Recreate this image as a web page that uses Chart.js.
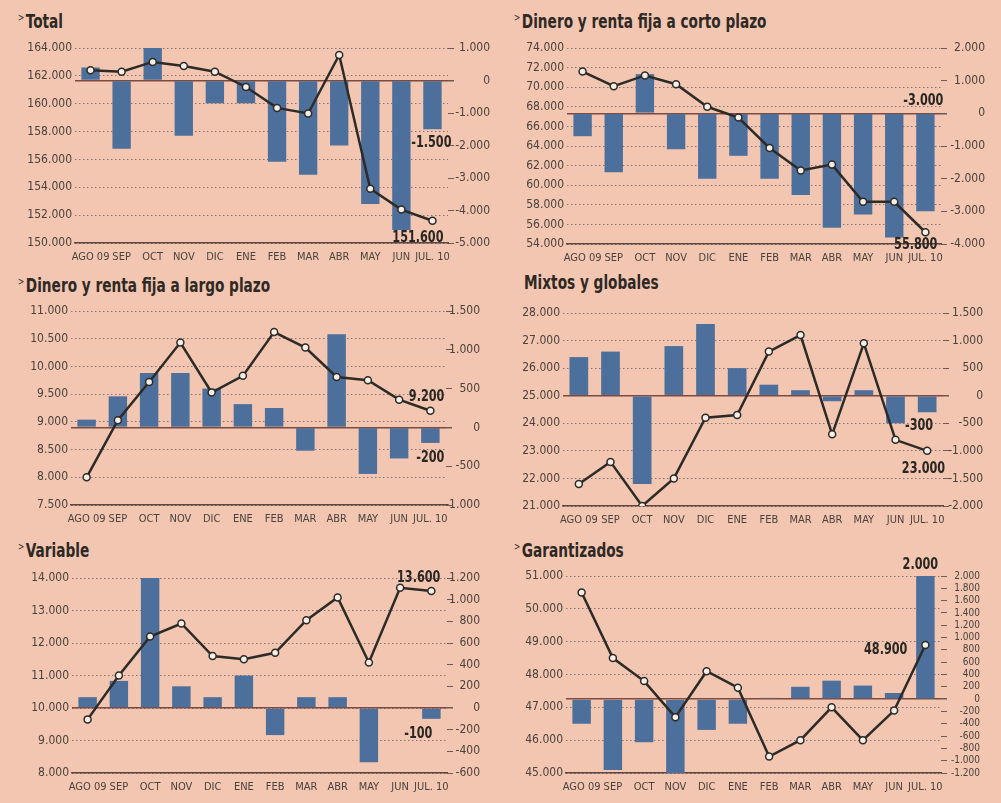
<!DOCTYPE html>
<html>
<head>
<meta charset="utf-8">
<script src="https://cdn.jsdelivr.net/npm/chart.js@4/dist/chart.umd.min.js"></script>
<style>
  html, body { margin: 0; padding: 0; }
  body { width: 1001px; height: 803px; background: #f2c6b0; position: relative; overflow: hidden;
         font-family: 'Liberation Sans Narrow', 'DejaVu Sans Condensed', sans-serif; }
  .titulo { position: absolute; font-weight: bold; font-size: 20px; color: #2e2925; white-space: nowrap;
            line-height: 20px; transform: scaleX(0.76); transform-origin: 0 0; }
  .titulo .flecha { font-size: 11px; vertical-align: 7px; margin-right: 2px; font-weight: normal; }
  canvas { position: absolute; }
</style>
</head>
<body>
<div class="titulo" style="left:18px;top:8px"><span class="flecha">&gt;</span>Total</div>
<div class="titulo" style="left:514px;top:8px"><span class="flecha">&gt;</span>Dinero y renta fija a corto plazo</div>
<div class="titulo" style="left:18px;top:272px"><span class="flecha">&gt;</span>Dinero y renta fija a largo plazo</div>
<div class="titulo" style="left:524px;top:272px">Mixtos y globales</div>
<div class="titulo" style="left:18px;top:537px"><span class="flecha">&gt;</span>Variable</div>
<div class="titulo" style="left:514px;top:537px"><span class="flecha">&gt;</span>Garantizados</div>

<canvas id="c1" width="500" height="240" style="left:0px;top:30px"></canvas>
<canvas id="c2" width="501" height="240" style="left:500px;top:30px"></canvas>
<canvas id="c3" width="500" height="245" style="left:0px;top:290px"></canvas>
<canvas id="c4" width="501" height="245" style="left:500px;top:290px"></canvas>
<canvas id="c5" width="500" height="245" style="left:0px;top:555px"></canvas>
<canvas id="c6" width="501" height="245" style="left:500px;top:555px"></canvas>

<script>
// meses (eje X comun)
const meses = ['AGO 09', 'SEP', 'OCT', 'NOV', 'DIC', 'ENE', 'FEB', 'MAR', 'ABR', 'MAY', 'JUN', 'JUL. 10'];

// patrimonio (linea, eje izq.) y suscripciones netas (barras, eje dcho.), millones
const totalPatrimonio = [162400, 162300, 163000, 162700, 162300, 161200, 159700, 159300, 163500, 153900, 152400, 151600];
const totalSuscripciones = [400, -2100, 1100, -1700, -700, -700, -2500, -2900, -2000, -3800, -4600, -1500];

const cortoPatrimonio = [71600, 70100, 71200, 70300, 68000, 66900, 63800, 61500, 62100, 58300, 58300, 55200];
const cortoSuscripciones = [-700, -1800, 1200, -1100, -2000, -1300, -2000, -2500, -3500, -3100, -3800, -3000];

const largoPatrimonio = [8000, 9030, 9720, 10430, 9530, 9830, 10620, 10340, 9810, 9750, 9400, 9200];
const largoSuscripciones = [100, 400, 700, 700, 500, 300, 250, -300, 1200, -600, -400, -200];

const mixtosPatrimonio = [21800, 22600, 21000, 22000, 24200, 24300, 26600, 27200, 23600, 26900, 23400, 23000];
const mixtosSuscripciones = [700, 800, -1600, 900, 1300, 500, 200, 100, -100, 100, -500, -300];

const variablePatrimonio = [9650, 11000, 12200, 12600, 11600, 11500, 11700, 12700, 13400, 11400, 13700, 13600];
const variableSuscripciones = [100, 250, 1200, 200, 100, 300, -250, 100, 100, -500, 0, -100];

const garantPatrimonio = [50500, 48500, 47800, 46700, 48100, 47600, 45500, 46000, 47000, 46000, 46900, 48900];
const garantSuscripciones = [-400, -1150, -700, -1200, -500, -400, 20, 200, 300, 220, 100, 2000];

// rangos de ejes [min, max, paso]
const totalIzq = [150000, 164000, 2000], totalDer = [-5000, 1000, 1000];
const cortoIzq = [54000, 74000, 2000], cortoDer = [-4000, 2000, 1000];
const largoIzq = [7500, 11000, 500], largoDer = [-1000, 1500, 500];
const mixtosIzq = [21000, 28000, 1000], mixtosDer = [-2000, 1500, 500];
const variableIzq = [8000, 14000, 1000], variableDer = [-600, 1200, 200];
const garantIzq = [45000, 51000, 1000], garantDer = [-1200, 2000, 200];

const FUENTE = "'Liberation Sans Narrow', 'DejaVu Sans Condensed', sans-serif";
Chart.defaults.font.family = FUENTE;
Chart.defaults.color = '#4a423e';

function miles(v) {
    const s = String(Math.abs(Math.round(v))).replace(/\B(?=(\d{3})+(?!\d))/g, '.');
    return (v < 0 ? '-' : '') + s;
}

// textos destacados junto al ultimo dato
const notasPlugin = {
    id: 'notas',
    afterDatasetsDraw(chart, args, opts) {
        const ctx = chart.ctx;
        (opts.items || []).forEach(n => {
            const el = chart.getDatasetMeta(n.ds).data[n.idx];
            const y0 = n.base ? el.base : el.y;
            ctx.save();
            ctx.translate(el.x + n.dx, y0 + n.dy);
            ctx.scale(0.78, 1);
            ctx.font = 'bold 16px ' + FUENTE;
            ctx.fillStyle = '#2a2622';
            ctx.textAlign = n.align || 'right';
            ctx.textBaseline = 'middle';
            ctx.fillText(n.text, 0, 0);
            ctx.restore();
        });
    }
};

function renderPanel(id, lineData, barData, izq, der, geo, notas, derFont) {
    const ctx = document.getElementById(id).getContext('2d');
    new Chart(ctx, {
        type: 'bar',
        data: {
            labels: meses,
            datasets: [{
                type: 'line',
                data: lineData,
                yAxisID: 'y',
                borderColor: '#2d2b27',
                borderWidth: 2.5,
                tension: 0,
                pointRadius: 3.5,
                pointBorderWidth: 1.5,
                pointBackgroundColor: '#f6efe8',
                pointBorderColor: '#2d2b27',
                order: 0
            },
            {
                type: 'bar',
                data: barData,
                yAxisID: 'y1',
                backgroundColor: '#4d6f9c',
                barPercentage: 0.59,
                categoryPercentage: 1,
                order: 1
            }]
        },
        options: {
            responsive: false,
            animation: false,
            layout: { padding: { top: geo.top, right: geo.padR, left: 0, bottom: 0 } },
            plugins: {
                legend: { display: false },
                tooltip: { enabled: false },
                notas: { items: notas }
            },
            scales: {
                x: {
                    grid: { display: false, drawTicks: false },
                    border: { display: true, color: '#5b4740', width: 1.5 },
                    ticks: { font: { size: 11 }, padding: 8, maxRotation: 0, autoSkip: false, color: '#4a423e' },
                    afterFit: s => { s.height = geo.xH; }
                },
                y: {
                    position: 'left',
                    min: izq[0], max: izq[1],
                    grid: { color: 'rgba(105,95,110,0.8)', lineWidth: 1, drawTicks: false },
                    border: { display: false, dash: [1.5, 2.5] },
                    ticks: { stepSize: izq[2], callback: miles, font: { size: 12 }, padding: 3, autoSkip: false, color: '#4a423e' },
                    afterFit: s => { s.width = geo.leftW; }
                },
                y1: {
                    position: 'right',
                    min: der[0], max: der[1],
                    grid: {
                        drawOnChartArea: true,
                        color: c => (c.tick && c.tick.value === 0) ? '#7d4a3f' : 'rgba(0,0,0,0)',
                        lineWidth: c => (c.tick && c.tick.value === 0) ? 1.5 : 1,
                        tickColor: '#6b5b55',
                        tickLength: 6,
                        drawTicks: true
                    },
                    border: { display: false },
                    ticks: { stepSize: der[2], callback: miles, font: { size: derFont || 12 }, padding: 4,
                             crossAlign: 'far', autoSkip: false, color: '#4a423e' },
                    afterFit: s => { s.width = geo.rightW; }
                }
            }
        },
        plugins: [notasPlugin]
    });
}

renderPanel('c1', totalPatrimonio, totalSuscripciones, totalIzq, totalDer,
    { top: 18, padR: 10, leftW: 75, rightW: 42, xH: 27 },
    [{ ds: 1, idx: 11, text: '-1.500', dx: 19, dy: 14 },
     { ds: 0, idx: 11, text: '151.600', dx: 11, dy: 17 }]);

renderPanel('c2', cortoPatrimonio, cortoSuscripciones, cortoIzq, cortoDer,
    { top: 18, padR: 16, leftW: 67, rightW: 44, xH: 26 },
    [{ ds: 1, idx: 11, text: '-3.000', dx: 18, dy: -13, base: true },
     { ds: 0, idx: 11, text: '55.800', dx: 12, dy: 13 }]);

renderPanel('c3', largoPatrimonio, largoSuscripciones, largoIzq, largoDer,
    { top: 21, padR: 20, leftW: 71, rightW: 34, xH: 30 },
    [{ ds: 0, idx: 11, text: '9.200', dx: 14, dy: -14 },
     { ds: 1, idx: 11, text: '-200', dx: 14, dy: 15 }]);

renderPanel('c4', mixtosPatrimonio, mixtosSuscripciones, mixtosIzq, mixtosDer,
    { top: 23, padR: 18, leftW: 63, rightW: 40, xH: 29 },
    [{ ds: 1, idx: 11, text: '-300', dx: 6, dy: 14 },
     { ds: 0, idx: 11, text: '23.000', dx: 18, dy: 18 }]);

renderPanel('c5', variablePatrimonio, variableSuscripciones, variableIzq, variableDer,
    { top: 23, padR: 20, leftW: 72, rightW: 33, xH: 27 },
    [{ ds: 0, idx: 11, text: '13.600', dx: 9, dy: -13 },
     { ds: 1, idx: 11, text: '-100', dx: 1, dy: 15 }]);

renderPanel('c6', garantPatrimonio, garantSuscripciones, garantIzq, garantDer,
    { top: 21, padR: 21, leftW: 66, rightW: 39, xH: 27 },
    [{ ds: 1, idx: 11, text: '2.000', dx: -5, dy: -11, align: 'center' },
     { ds: 0, idx: 11, text: '48.900', dx: -18, dy: 5 }], 10);
</script>
</body>
</html>
